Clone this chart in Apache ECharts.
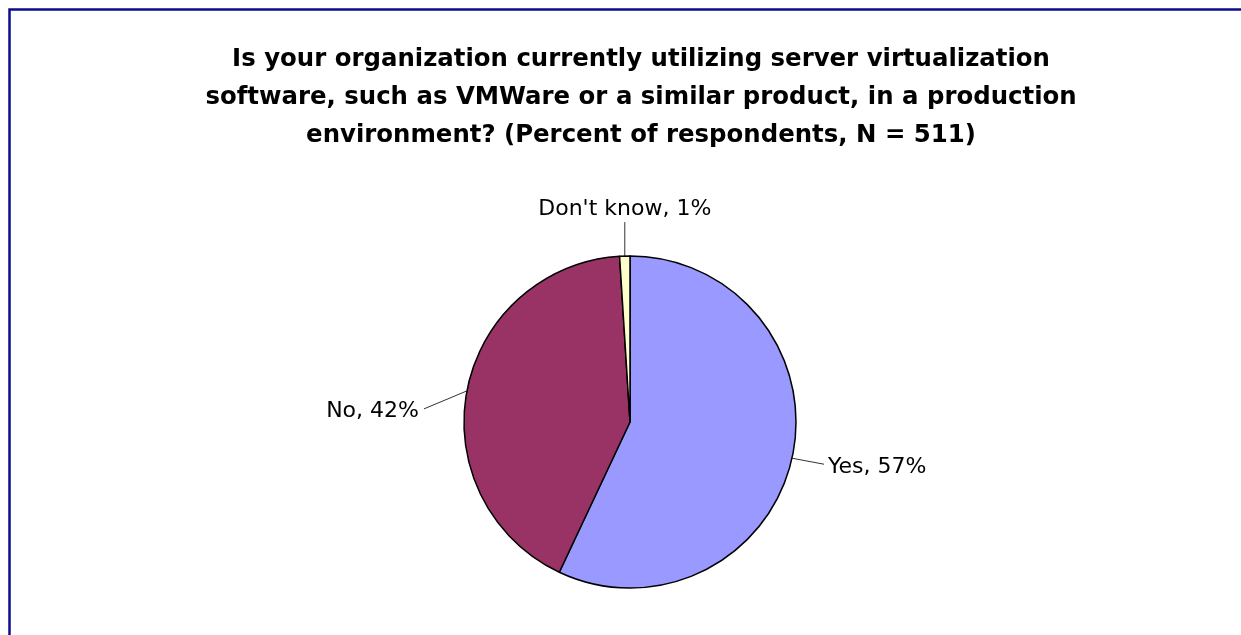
<!DOCTYPE html>
<html>
<head>
<meta charset="utf-8">
<script src="https://cdn.jsdelivr.net/npm/echarts@6/dist/echarts.min.js"></script>
<style>
html,body{margin:0;padding:0;background:#fff;}
#chart{width:1241px;height:635px;}
</style>
</head>
<body>
<div id="chart"></div>
<script>
const titleLines = [
  "Is your organization currently utilizing server virtualization",
  "software, such as VMWare or a similar product, in a production",
  "environment? (Percent of respondents, N = 511)"
];
const categories = ["Yes", "No", "Don't know"];
const values = [57, 42, 1];
const colors = ["#9999FF", "#993366", "#FFFFCC"];

const chart = echarts.init(document.getElementById('chart'), null, {renderer: 'canvas'});
const data = categories.map((c, i) => ({
  name: c,
  value: values[i],
  itemStyle: {color: colors[i]}
}));

// leader-line offsets (line end dx, dy; label gap) per slice, relative to slice edge point
const leader = [
  {dx: 32, dy: 6, align: 'left', vAlign: 'middle', gap: 4, ldy: 3},
  {dx: -43, dy: 18, align: 'right', vAlign: 'middle', gap: -5, ldy: 2},
  {dx: 0, dy: -34, align: 'center', vAlign: 'bottom', gap: 0, ldy: -2}
];

chart.setOption({
  backgroundColor: '#ffffff',
  animation: false,
  title: {
    text: titleLines.join('\n'),
    left: 636,
    top: 36,
    textAlign: 'center',
    textStyle: {
      fontFamily: 'DejaVu Sans',
      fontWeight: 'bold',
      fontSize: 24.4,
      lineHeight: 38,
      color: '#000'
    }
  },
  graphic: [{
    type: 'polyline',
    shape: {points: [[9.5, 640], [9.5, 9.5], [1245, 9.5]]},
    style: {stroke: '#0c0c8c', lineWidth: 2.5, fill: null},
    silent: true
  }],
  series: [{
    type: 'pie',
    center: [630, 422],
    radius: 166,
    startAngle: 90,
    clockwise: true,
    data: data,
    itemStyle: {borderColor: '#000', borderWidth: 1.5},
    label: {
      show: true,
      formatter: p => p.name + ', ' + p.value + '%',
      fontFamily: 'DejaVu Sans',
      fontSize: 22,
      color: '#000'
    },
    labelLine: {
      show: true,
      length: 12,
      length2: 18,
      lineStyle: {color: '#333', width: 1}
    },
    emphasis: {disabled: true},
    labelLayout: function (params) {
      const L = leader[params.dataIndex];
      const p0 = params.labelLinePoints[0];
      const end = [p0[0] + L.dx, p0[1] + L.dy];
      return {
        x: end[0] + L.gap,
        y: end[1] + L.ldy,
        align: L.align,
        verticalAlign: L.vAlign,
        labelLinePoints: [[p0[0], p0[1]], end, end]
      };
    }
  }]
});
</script>
</body>
</html>
